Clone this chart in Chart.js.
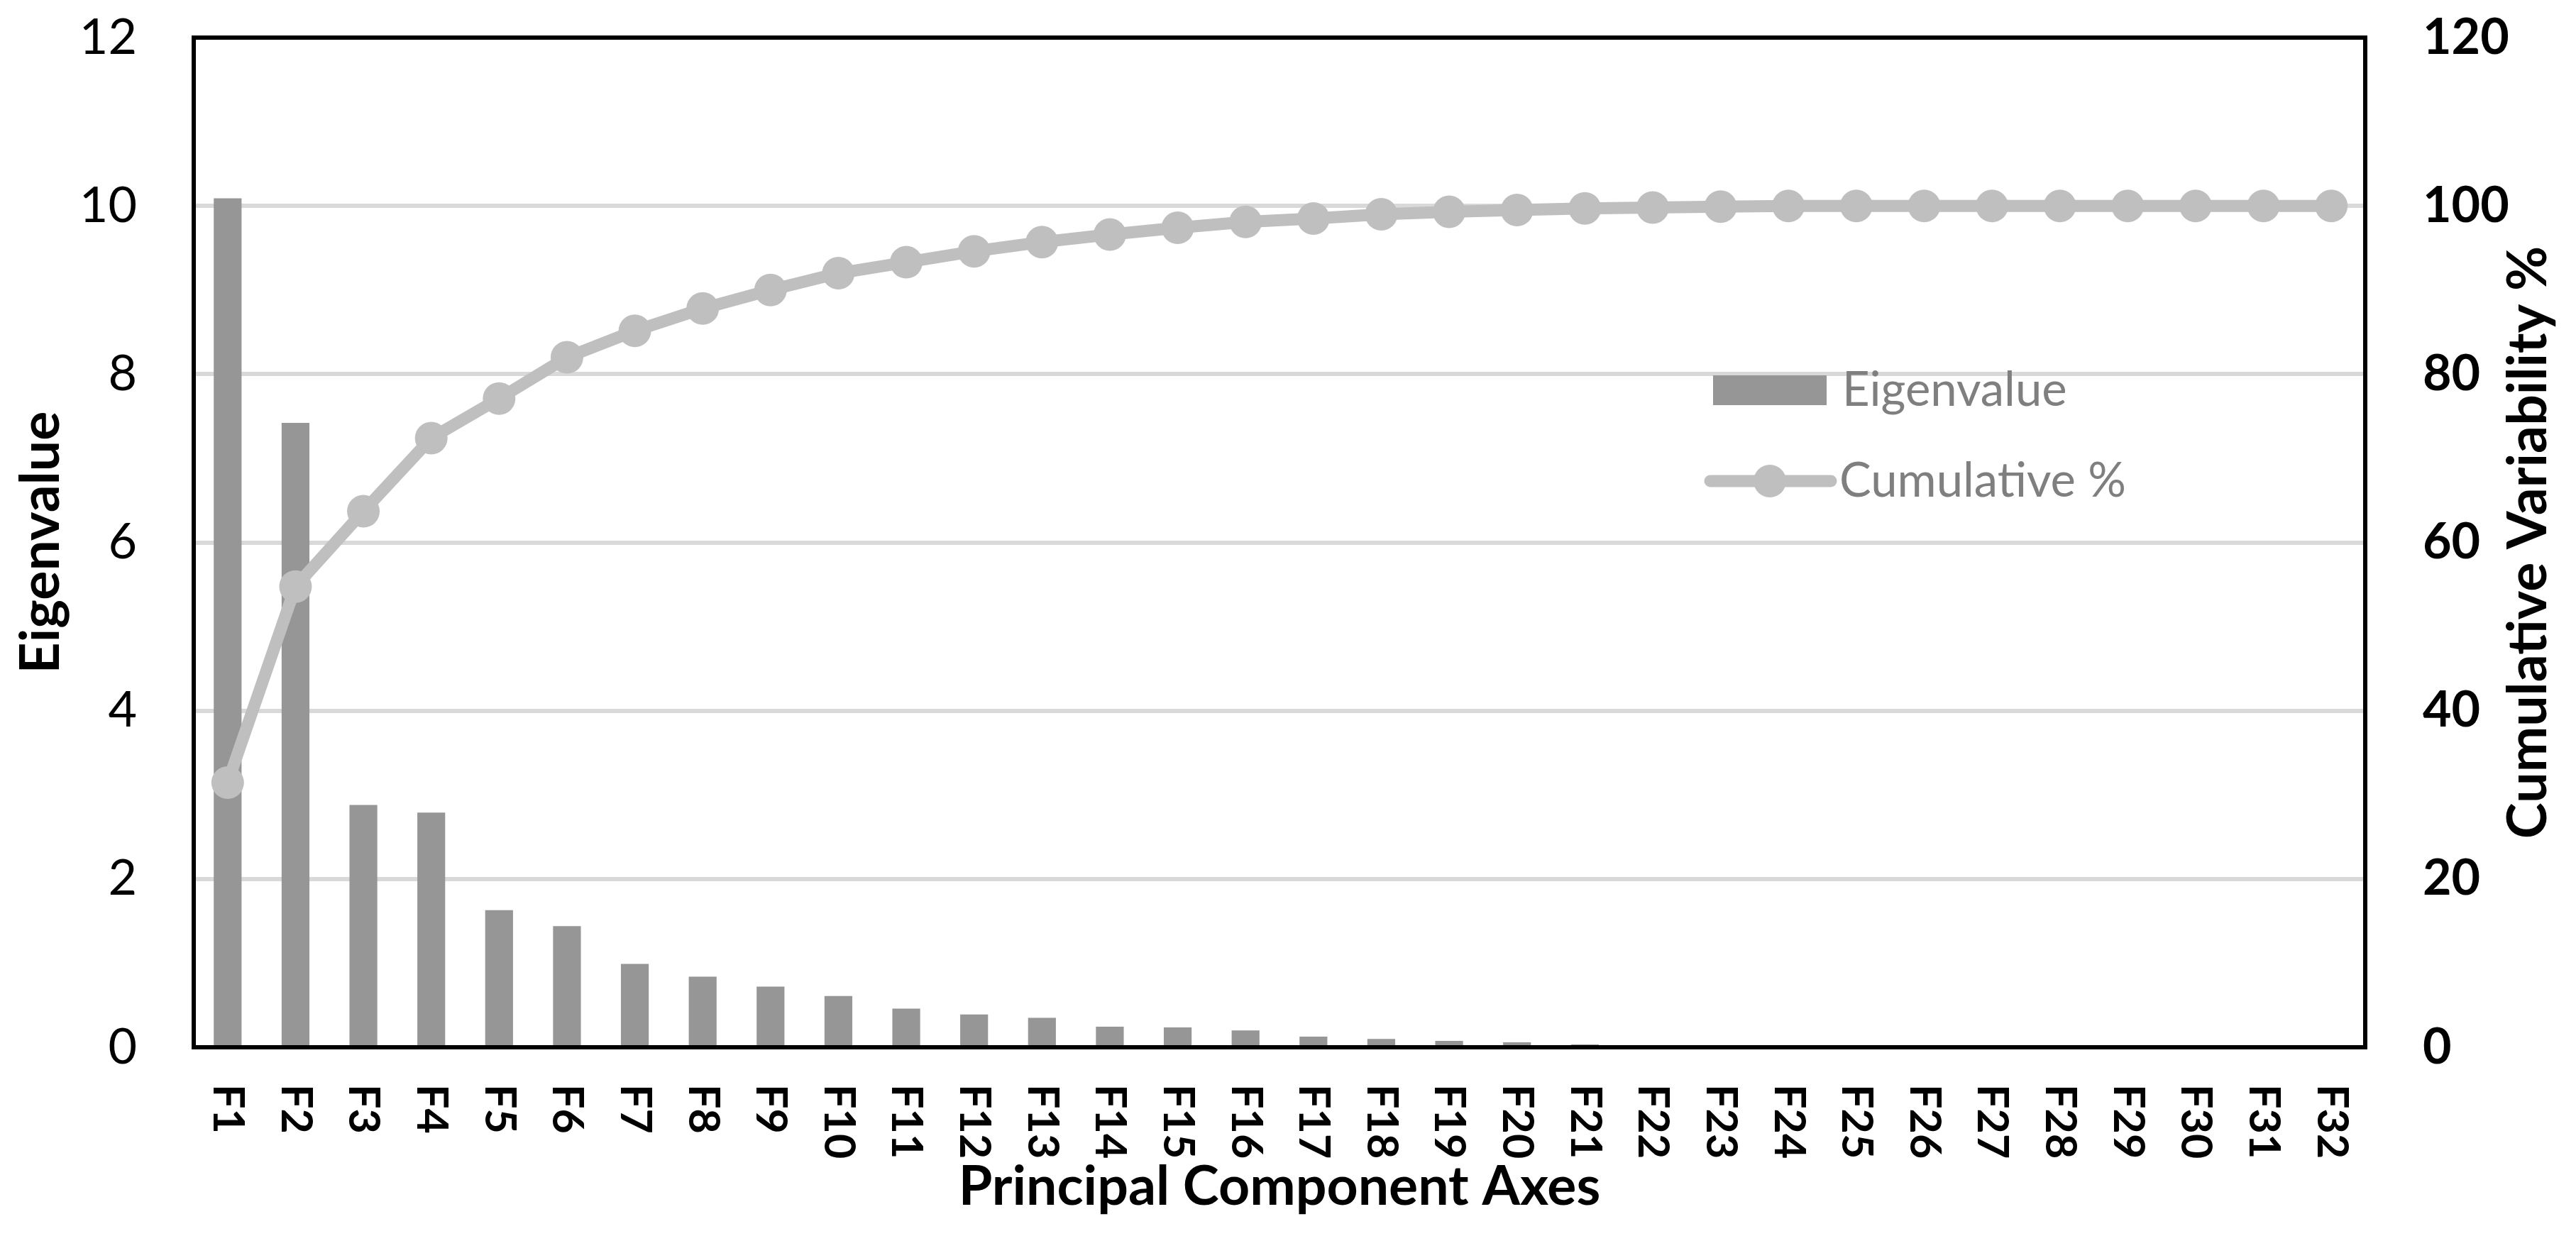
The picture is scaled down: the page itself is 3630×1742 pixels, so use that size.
<!DOCTYPE html>
<html>
<head>
<meta charset="utf-8">
<title>Scree plot</title>
<script src="https://cdn.jsdelivr.net/npm/chart.js@4.4.1/dist/chart.umd.min.js"></script>
<style>
  html, body { margin: 0; padding: 0; background: #fff; }
  #wrap { width: 3630px; height: 1742px; }
</style>
</head>
<body>
<div id="wrap"><canvas id="scree" width="3630" height="1742"></canvas></div>
<script>
'use strict';

const labels = ['F1','F2','F3','F4','F5','F6','F7','F8','F9','F10','F11','F12','F13','F14','F15','F16',
                'F17','F18','F19','F20','F21','F22','F23','F24','F25','F26','F27','F28','F29','F30','F31','F32'];
const eigenvalues = [10.09, 7.42, 2.88, 2.79, 1.63, 1.44, 0.99, 0.84, 0.72, 0.61, 0.46, 0.39, 0.35, 0.245, 0.236, 0.20,
                     0.126, 0.10, 0.076, 0.06, 0.034, 0.008, 0, 0, 0, 0, 0, 0, 0, 0, 0, 0];
const cumulativePct = [31.45, 54.76, 63.7, 72.4, 77.1, 82.0, 85.15, 87.8, 90.0, 92.0, 93.3, 94.6, 95.7, 96.6, 97.4, 98.1,
                       98.5, 99.0, 99.3, 99.5, 99.7, 99.8, 99.9, 100, 100, 100, 100, 100, 100, 100, 100, 100];
const eigenTicks = { min: 0, max: 12, step: 2 };
const pctTicks = { min: 0, max: 120, step: 20 };

const BAR = '#969696', LINE = '#BFBFBF', GRID = '#D9D9D9', LEGEND_TXT = '#7F7F7F';
const FONT = 'Lato';
const TITLE_SIZE = 77;

// frame, rotated category labels, right title and in-plot legend
const extras = {
  id: 'extras',
  afterDraw(chart) {
    const { ctx, chartArea: a, scales: { x } } = chart;
    const ds = chart.data.datasets;
    ctx.save();

    ctx.strokeStyle = '#000';
    ctx.lineWidth = 6;
    ctx.strokeRect(a.left, a.top, a.right - a.left, a.bottom - a.top);

    ctx.fillStyle = '#000';
    ctx.font = `bold 61px ${FONT}`;
    ctx.textAlign = 'left';
    ctx.textBaseline = 'middle';
    chart.data.labels.forEach((lab, i) => {
      ctx.save();
      ctx.translate(x.getPixelForValue(i), a.bottom + 52);
      ctx.rotate(Math.PI / 2);
      ctx.fillText(lab, 0, 0);
      ctx.restore();
    });

    ctx.save();
    ctx.font = `bold ${TITLE_SIZE}px ${FONT}`;
    ctx.textAlign = 'center';
    ctx.translate(chart.width - 67, (a.top + a.bottom) / 2);
    ctx.rotate(-Math.PI / 2);
    ctx.fillText('Cumulative Variability %', 0, 0);
    ctx.restore();

    // legend
    const lx = 2414, ly = 550, gap = 128;
    ctx.fillStyle = ds[0].backgroundColor;
    ctx.fillRect(lx, ly - 21, 160, 42);

    ctx.strokeStyle = ds[1].borderColor;
    ctx.lineWidth = ds[1].borderWidth;
    ctx.lineCap = 'round';
    ctx.beginPath();
    ctx.moveTo(lx - 4, ly + gap);
    ctx.lineTo(lx + 166, ly + gap);
    ctx.stroke();
    ctx.fillStyle = ds[1].pointBackgroundColor;
    ctx.beginPath();
    ctx.arc(lx + 80, ly + gap, ds[1].pointRadius, 0, Math.PI * 2);
    ctx.fill();

    ctx.fillStyle = LEGEND_TXT;
    ctx.font = `67px ${FONT}`;
    ctx.textAlign = 'left';
    ctx.fillText(ds[0].label, lx + 182, ly);
    ctx.fillText(ds[1].label, lx + 178, ly + gap);
    ctx.restore();
  }
};

// fixed axis sizes so the plot box lands where the original has it
function fixY(width) {
  return s => { s.width = width; s.paddingTop = 0; s.paddingBottom = 0; };
}

function build() {
  new Chart(document.getElementById('scree'), {
    type: 'bar',
    data: {
      labels,
      datasets: [{
        type: 'bar',
        label: 'Eigenvalue',
        data: eigenvalues,
        backgroundColor: BAR,
        borderWidth: 0,
        categoryPercentage: 1,
        barPercentage: 0.41,
        yAxisID: 'y',
        order: 2
      }, {
        type: 'line',
        label: 'Cumulative %',
        data: cumulativePct,
        borderColor: LINE,
        borderWidth: 17,
        borderCapStyle: 'round',
        borderJoinStyle: 'round',
        pointRadius: 23,
        pointBackgroundColor: LINE,
        pointBorderWidth: 0,
        tension: 0,
        yAxisID: 'y1',
        order: 1
      }]
    },
    options: {
      responsive: false, animation: false, devicePixelRatio: 1,
      layout: { padding: { top: 53, left: 0, right: 0, bottom: 0 } },
      plugins: { legend: { display: false }, tooltip: { enabled: false } },
      scales: {
        x: {
          grid: { display: false }, border: { display: false },
          ticks: { display: false },
          title: { display: true, text: 'Principal Component Axes', color: '#000',
                   font: { family: FONT, size: TITLE_SIZE, weight: 'bold' }, padding: { top: 0, bottom: 23 } },
          afterFit: s => { s.height = 266; }
        },
        y: {
          position: 'left', min: eigenTicks.min, max: eigenTicks.max,
          grid: { color: GRID, lineWidth: 6, drawTicks: false }, border: { display: false },
          ticks: { stepSize: eigenTicks.step, color: '#000', padding: 80, font: { family: FONT, size: 70 } },
          title: { display: true, text: 'Eigenvalue', color: '#000',
                   font: { family: FONT, size: TITLE_SIZE, weight: 'bold' }, padding: { top: 12, bottom: 0 } },
          afterFit: fixY(273)
        },
        y1: {
          position: 'right', min: pctTicks.min, max: pctTicks.max,
          grid: { display: false, drawTicks: false }, border: { display: false },
          ticks: { stepSize: pctTicks.step, color: '#000', padding: 81, font: { family: FONT, size: 70, weight: 'bold' } },
          afterFit: fixY(297)
        }
      }
    },
    plugins: [extras]
  });
}

Promise.all([
  document.fonts.load(`70px ${FONT}`),
  document.fonts.load(`bold 70px ${FONT}`)
]).catch(() => {}).then(build);
</script>
</body>
</html>
